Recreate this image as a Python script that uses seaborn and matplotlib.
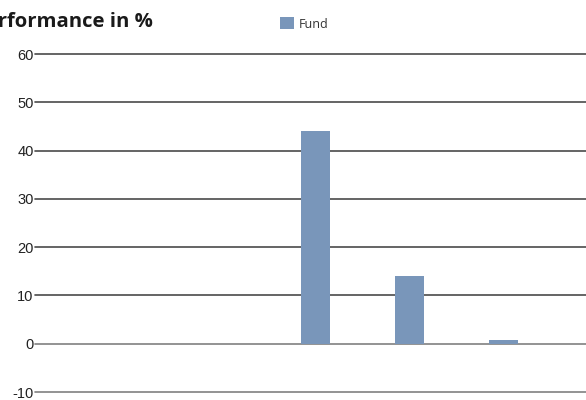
import pandas as pd
import numpy as np
import seaborn as sns
import matplotlib.pyplot as plt

# data (first two periods carry no bar)
periods = ["1M", "3M", "1Y", "3Y", "5Y"]
fund = [np.nan, np.nan, 44.0, 14.0, 0.8]
yticks = [-10, 0, 10, 20, 30, 40, 50, 60]

df = pd.DataFrame({"period": periods, "perf": fund, "series": "Fund"})

sns.set_theme(style="white")
plt.rcParams["font.family"] = ["Liberation Sans", "DejaVu Sans"]

fig = plt.figure(figsize=(5.86, 4.0), dpi=100)
ax = fig.add_axes([35 / 586, 1 - 392 / 400, 1 - 35 / 586, (392 - 54) / 400])

sns.barplot(data=df, x="period", y="perf", hue="series", order=periods,
            palette=["#7996BA"], width=0.31, saturation=1, linewidth=0,
            ax=ax, legend=True)

ax.set_ylim(-10, 60)
ax.set_xlim(-(127.5 - 35) / 94, (586 - 127.5) / 94)
ax.set_yticks(yticks)
ax.set_yticklabels([str(t) for t in yticks], fontsize=10.5, color="#222222")
ax.tick_params(axis="y", length=0, pad=1)
ax.set_xticks([])
ax.set_xlabel("")
ax.set_ylabel("")
for s in ax.spines.values():
    s.set_visible(False)

ax.set_axisbelow(True)
ax.grid(axis="y", color="#4a4a4a", linewidth=1.2)
for gl, t in zip(ax.yaxis.get_gridlines(), yticks):
    gl.set_clip_on(False)
    if t <= 0:
        gl.set_color("#808080")

ax.legend(loc="upper left", bbox_to_anchor=(274 / 586, 1 - 11 / 400),
          bbox_transform=fig.transFigure, frameon=False, borderpad=0,
          handlelength=1.1, handleheight=1.1, handletextpad=0.35,
          prop={"family": "Open Sans", "size": 9}, labelcolor="#333333")

# the reference crops the start of the title at the left edge
fig.text(153 / 586, 1 - 27 / 400, "Performance in %", ha="right", va="baseline",
         fontsize=14.6, fontweight="bold", family="Open Sans", color="#1a1a1a")

fig.savefig("out.png", dpi=100)
